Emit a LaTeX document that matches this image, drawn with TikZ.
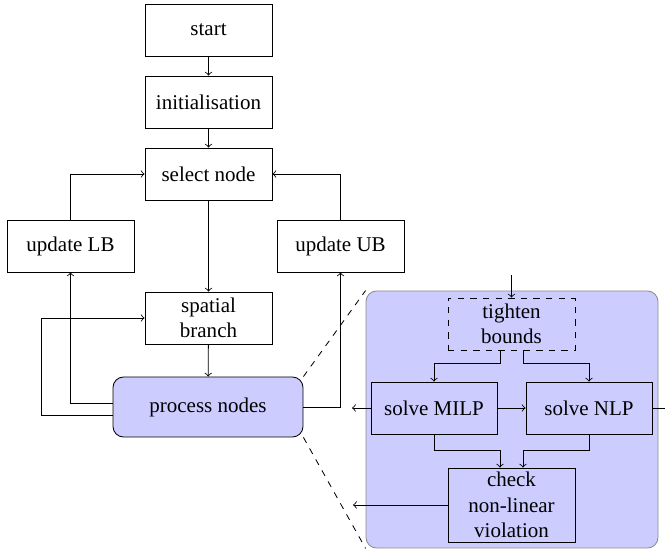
\documentclass[tikz,border=0pt]{standalone}
\usepackage{fontspec}
\setmainfont{Liberation Serif}
\usetikzlibrary{calc}
\begin{document}
\begin{tikzpicture}[x=0.476pt,y=-0.476pt,
  box/.style 2 args={draw, thin, inner sep=0pt, align=center, font=\fontsize{10}{12}\selectfont,
    minimum width=#1*0.476pt, minimum height=#2*0.476pt},
  arr/.style={->, thin},
  ln/.style={thin}]
\useasboundingbox (0,0) rectangle (665,550);
% panel
\node[draw=black!45, fill=blue!20, rounded corners=5pt, minimum width=292*0.476pt, minimum height=257*0.476pt, inner sep=0pt] (panel) at (512,419.5) {};
% main nodes
\node[box={127}{52}] (start) at (208.5,30) {start};
\node[box={127}{52}] (init) at (208.5,102) {initialisation};
\node[box={127}{52}] (sel) at (208.5,174) {select node};
\node[box={127}{52}] (lb) at (70.5,246) {update LB};
\node[box={127}{52}] (ub) at (340.5,246) {update UB};
\node[box={127}{52}] (sp) at (208.5,318) {spatial\\branch};
\node[box={190}{60}, fill=blue!20, rounded corners=5pt] (proc) at (208,407) {process nodes};
% inner nodes
\node[box={127}{52}, dashed] (tight) at (511.5,324) {tighten\\bounds};
\node[box={126}{52}] (milp) at (434,408) {solve MILP};
\node[box={126}{52}] (nlp) at (589,408) {solve NLP};
\node[box={127}{74}] (check) at (511.5,505) {check\\non-linear\\violation};
% coordinates
\coordinate (tin) at (511.5,275);
\coordinate (mout) at (352,408);
\coordinate (nout) at (665,408);
\coordinate (cout) at (353,505);
% main connectors
\draw[arr] (start) -- (init);
\draw[arr] (init) -- (sel);
\draw[arr] (sel) -- (sp);
\draw[arr] (sp) -- (proc);
\draw[arr] (lb.north) |- (sel.west);
\draw[arr] (ub.north) |- (sel.east);
\draw[arr] ($(proc.west)+(0,-4)$) -| (lb.south);
\draw[arr] ($(proc.west)+(0,8)$) -- (41,415) |- (sp.west);
\draw[arr] (proc.east) -| (ub.south);
\draw[ln, dashed] (proc.north east) -- (panel.north west);
\draw[ln, dashed] (proc.south east) -- (panel.south west);
% inner connectors
\draw[arr] (tin) -- (tight.north);
\draw[arr] ($(tight.south)+(-11.5,0)$) -- ++(0,13) -| (milp.north);
\draw[arr] ($(tight.south)+(11.5,0)$) -- ++(0,13) -| (nlp.north);
\draw[arr] (milp.east) -- (nlp.west);
\draw[arr] (milp.west) -- (mout);
\draw[ln] (nlp.east) -- (nout);
\draw[arr] (milp.south) -- ++(0,16) -| ($(check.north)+(-11.5,0)$);
\draw[arr] (nlp.south) -- ++(0,16) -| ($(check.north)+(11.5,0)$);
\draw[arr] (check.west) -- (cout);
\end{tikzpicture}
\end{document}
